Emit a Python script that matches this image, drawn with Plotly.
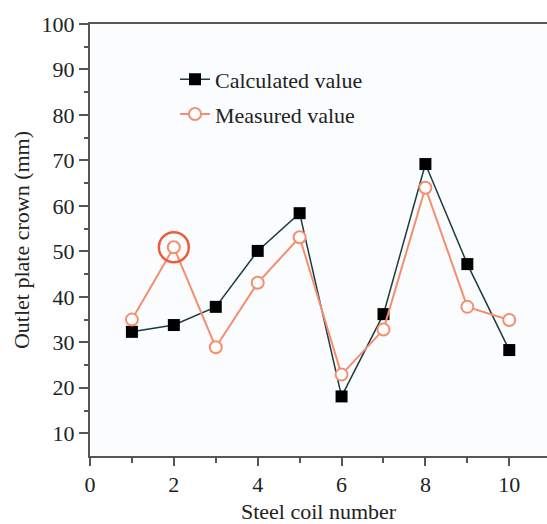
import plotly.graph_objects as go

# Steel coil numbers and outlet plate crown values (mm)
coil_number = [1, 2, 3, 4, 5, 6, 7, 8, 9, 10]
calculated_value = [32.3, 33.8, 37.8, 50.1, 58.4, 18.1, 36.2, 69.2, 47.2, 28.3]
measured_value = [35.0, 50.9, 28.9, 43.1, 53.1, 22.9, 32.8, 64.0, 37.8, 34.9]

# Coil whose measurement is highlighted with a ring
highlight_index = 1

x_ticks = [0, 2, 4, 6, 8, 10]
y_ticks = [10, 20, 30, 40, 50, 60, 70, 80, 90, 100]

FONT = "Liberation Serif, Times New Roman, serif"
TEXT_COLOR = "#222222"
AXIS_COLOR = "#555555"
CALC_LINE = "#1d3b3f"
MEAS_COLOR = "#f58e6e"
RING_COLOR = "#ee5a3c"
FS = 22

fig = go.Figure()

fig.add_trace(go.Scatter(
    x=coil_number, y=calculated_value,
    mode="lines+markers", name="Calculated value",
    legendgroup="calc",
    line=dict(color=CALC_LINE, width=1.5),
    marker=dict(symbol="square", size=12, color="#000000",
                line=dict(color="#000000", width=0)),
))

fig.add_trace(go.Scatter(
    x=coil_number, y=measured_value,
    mode="lines+markers", name="Measured value",
    legendgroup="meas",
    line=dict(color=MEAS_COLOR, width=2),
    marker=dict(symbol="circle", size=12, color="#ffffff",
                line=dict(color=MEAS_COLOR, width=2)),
))

fig.add_trace(go.Scatter(
    x=[coil_number[highlight_index]], y=[measured_value[highlight_index]],
    mode="markers", showlegend=False, hoverinfo="skip",
    marker=dict(symbol="circle-open", size=30, color=RING_COLOR,
                line=dict(color=RING_COLOR, width=2.5)),
))

fig.update_layout(
    width=547, height=524,
    margin=dict(l=90, r=0, t=24, b=68),
    paper_bgcolor="#ffffff",
    plot_bgcolor="#fbfcfe",
    font=dict(family=FONT, size=FS, color=TEXT_COLOR),
    legend=dict(
        x=0.186, y=0.92, xanchor="left", yanchor="top",
        bgcolor="rgba(0,0,0,0)",
        font=dict(family=FONT, size=FS, color=TEXT_COLOR),
        tracegroupgap=3,
        traceorder="grouped",
    ),
    showlegend=True,
)

fig.update_xaxes(
    range=[0, 10.9],
    tickvals=x_ticks,
    ticks="outside", ticklen=8, tickwidth=1.5, tickcolor=AXIS_COLOR,
    minor=dict(tickvals=[1, 3, 5, 7, 9], ticks="outside", ticklen=5,
               tickwidth=1.5, tickcolor=AXIS_COLOR),
    showline=True, linecolor=AXIS_COLOR, linewidth=2, mirror=True,
    showgrid=False, zeroline=False,
    tickfont=dict(family=FONT, size=FS, color=TEXT_COLOR),
    title=dict(text="Steel coil number", standoff=8,
               font=dict(family=FONT, size=FS, color=TEXT_COLOR)),
)

fig.update_yaxes(
    range=[5, 100],
    tickvals=y_ticks,
    ticks="outside", ticklen=9, tickwidth=1.5, tickcolor=AXIS_COLOR,
    minor=dict(tickvals=[15, 25, 35, 45, 55, 65, 75, 85, 95],
               ticks="outside", ticklen=4, tickwidth=1.5, tickcolor=AXIS_COLOR),
    showline=True, linecolor=AXIS_COLOR, linewidth=2,
    showgrid=False, zeroline=False,
    tickfont=dict(family=FONT, size=FS, color=TEXT_COLOR),
    title=dict(text="Outlet plate crown (mm)", standoff=6,
               font=dict(family=FONT, size=FS, color=TEXT_COLOR)),
)

fig.write_html("out.html")
